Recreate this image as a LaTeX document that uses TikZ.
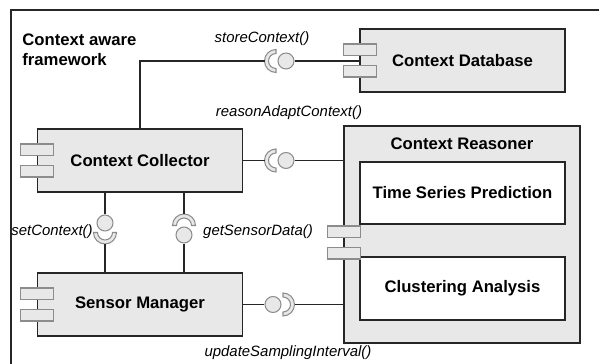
\documentclass[tikz,border=0pt]{standalone}
\usepackage{fontspec}
\setmainfont{Liberation Sans}

\definecolor{boxgray}{HTML}{E8E8E8}
\definecolor{rimgray}{HTML}{8C8C8C}

\tikzset{
    % half ring of a required interface, tip on the left
    socket/.pic={
        \draw[draw=rimgray, fill=boxgray, line width=0.6pt]
            (90:7.5) arc (90:270:7.5) -- (270:11.5) arc (270:90:11.5) -- cycle;
        \coordinate (-tip) at (180:11.5);
    },
    % the two little tabs of a component symbol
    ports/.pic={
        \draw[draw=rimgray, fill=boxgray, line width=0.6pt] (-16,5) rectangle (17,16.5);
        \draw[draw=rimgray, fill=boxgray, line width=0.6pt] (-16,-5) rectangle (17,-16.5);
    }
}

\begin{document}
\begin{tikzpicture}[
    x=0.02cm, y=0.02cm,
    bold/.style={font=\fontsize{9.5}{11.3}\selectfont\bfseries, inner sep=0pt},
    comp/.style={bold, draw=black!85, fill=boxgray, line width=0.9pt,
        minimum width=4.1cm, minimum height=1.26cm},
    part/.style={bold, draw=black!85, fill=white, line width=0.9pt,
        minimum width=4.1cm, minimum height=1.25cm},
    ball/.style={circle, draw=rimgray, fill=boxgray, line width=0.6pt,
        minimum size=0.32cm, inner sep=0pt},
    wire/.style={draw=black!85, line width=0.7pt},
    call/.style={font=\fontsize{8.5}{10}\selectfont\itshape, inner sep=0pt}
]
\path[use as bounding box, clip] (0,0) rectangle (599,364);
\fill[white] (0,0) rectangle (599,364);
\draw[black!85, line width=0.8pt] (11,354) rectangle (640,-40);

\node[bold, anchor=west, align=left] (fw) at (22,314) {Context aware\\framework};

% components
\node[comp] (db) at (462.5,303.5) {Context Database};
\node[comp] (collector) at (140,203.5) {Context Collector};
\node[comp] (sensor) at (140,59.5) {Sensor Manager};
\node[comp, minimum width=4.72cm, minimum height=4.34cm] (reasoner) at (462,129.5) {};
\node[bold] (rtitle) at ([yshift=-0.38cm]reasoner.north) {Context Reasoner};
\node[part] (tsp) at (462.5,171) {Time Series Prediction};
\node[part] (clu) at (462.5,75.5) {Clustering Analysis};

% storeContext
\node[ball] (b1) at (286,303) {};
\pic (s1) at (276,303) {socket};
\draw[wire] (collector.north) |- (s1-tip);
\draw[wire] (b1) -- (b1 -| db.west);

% reasonAdaptContext
\node[ball] (b2) at (286,203.5) {};
\pic (s2) at (276,203.5) {socket};
\draw[wire] (collector.east) -- (s2-tip);
\draw[wire] (b2) -- (b2 -| reasoner.west);

% setContext
\node[ball] (b3) at (105,141) {};
\pic[rotate=90] (s3) at (105,131.5) {socket};
\draw[wire] (b3) -- (b3 |- collector.south);
\draw[wire] (s3-tip) -- (s3-tip |- sensor.north);

% getSensorData
\node[ball] (b4) at (184,129) {};
\pic[rotate=-90] (s4) at (184,138.5) {socket};
\draw[wire] (s4-tip) -- (s4-tip |- collector.south);
\draw[wire] (b4) -- (b4 |- sensor.north);

% updateSamplingInterval
\node[ball] (b5) at (273,59.5) {};
\pic[rotate=180] (s5) at (283,59.5) {socket};
\draw[wire] (b5 -| sensor.east) -- (b5);
\draw[wire] (s5-tip) -- (s5-tip -| reasoner.west);

\pic at (db.west) {ports};
\pic at (collector.west) {ports};
\pic at (sensor.west) {ports};
\pic at ([yshift=-0.16cm]reasoner.west) {ports};

% operation names
\node[call] (lstore) at (262,325) {storeContext()};
\node[call] (lreason) at (289,251) {reasonAdaptContext()};
\node[call] (lset) at (52,132) {setContext()};
\node[call] (lget) at (258,132) {getSensorData()};
\node[call] (lupdate) at (288,11) {updateSamplingInterval()};
\end{tikzpicture}
\end{document}
